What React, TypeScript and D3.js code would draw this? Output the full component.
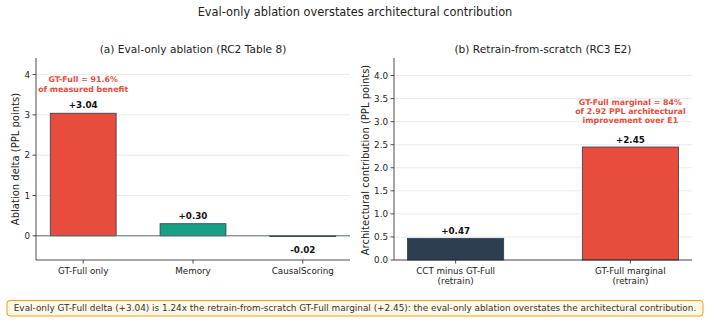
import React from 'react';
import * as d3 from 'd3';

const evalCats = ['GT-Full only', 'Memory', 'CausalScoring'];
const evalVals = [3.04, 0.30, -0.02];
const evalColors = ['#e74c3c', '#16a085', '#34495e'];
const evalLabels = ['+3.04', '+0.30', '-0.02'];

const retrainCats = [['CCT minus GT-Full', '(retrain)'], ['GT-Full marginal', '(retrain)']];
const retrainVals = [0.47, 2.45];
const retrainColors = ['#2c3e50', '#e74c3c'];
const retrainLabels = ['+0.47', '+2.45'];

const leftTicks = [0, 1, 2, 3, 4];
const rightTicks = [0, 0.5, 1, 1.5, 2, 2.5, 3, 3.5, 4];

const W = 710;
const H = 324;
const font = 'DejaVu Sans, sans-serif';
const ink = '#222';
const tickSize = 8.75;

export default function App() {
  // left panel
  const lx = d3.scaleLinear().domain([-0.43, 2.43]).range([36, 350]);
  const ly = d3.scaleLinear().domain([-0.6, 4.41]).range([260, 58]);
  const lw = lx(0.6) - lx(0);

  // right panel
  const rx = d3.scaleLinear().domain([-0.3525, 1.3525]).range([394, 692]);
  const ry = d3.scaleLinear().domain([0, 4.38]).range([260, 58]);
  const rw = rx(0.55) - rx(0);

  return (
    <svg width={W} height={H} style={{ position: 'absolute', left: 0, top: 0, background: '#fff' }} fontFamily={font}>
      <text x={355} y={16} textAnchor="middle" fontSize={11.4} fill={ink}>
        Eval-only ablation overstates architectural contribution
      </text>

      {/* ---- (a) ---- */}
      <text x={193} y={52.5} textAnchor="middle" fontSize={10.6} fill={ink}>
        (a) Eval-only ablation (RC2 Table 8)
      </text>
      {leftTicks.map((t) => (
        <g key={t}>
          <line x1={36} x2={350} y1={ly(t)} y2={ly(t)} stroke="#e6e6e6" strokeWidth={0.8} />
          <line x1={32.5} x2={36} y1={ly(t)} y2={ly(t)} stroke={ink} strokeWidth={0.8} />
          <text x={30} y={ly(t)} dy="0.36em" textAnchor="end" fontSize={tickSize} fill={ink}>{t}</text>
        </g>
      ))}
      {evalVals.map((v, i) => (
        <rect key={i} x={lx(i) - lw / 2} width={lw} y={ly(Math.max(v, 0))}
          height={Math.abs(ly(v) - ly(0))} fill={evalColors[i]} stroke="#2c3e50" strokeWidth={0.8} />
      ))}
      <line x1={36} x2={350} y1={ly(0)} y2={ly(0)} stroke="#5d6d7e" strokeWidth={1} />
      {evalVals.map((v, i) => (
        <text key={i} x={lx(i)} y={v >= 0 ? ly(v) - 5 : ly(v) + 16} textAnchor="middle"
          fontSize={tickSize} fontWeight="bold" fill="#111">{evalLabels[i]}</text>
      ))}
      <text x={lx(0)} y={ly(3.04)} textAnchor="middle" fontSize={7.9} fontWeight="bold" fill="#e74c3c">
        <tspan x={lx(0)} dy={-31}>GT-Full = 91.6%</tspan>
        <tspan x={lx(0)} dy={9.5}>of measured benefit</tspan>
      </text>
      {evalCats.map((c, i) => (
        <g key={c}>
          <line x1={lx(i)} x2={lx(i)} y1={260} y2={263.5} stroke={ink} strokeWidth={0.8} />
          <text x={lx(i)} y={273.5} textAnchor="middle" fontSize={tickSize} fill={ink}>{c}</text>
        </g>
      ))}
      <line x1={36} x2={36} y1={58} y2={260} stroke={ink} strokeWidth={0.8} />
      <line x1={36} x2={350} y1={260} y2={260} stroke={ink} strokeWidth={0.8} />
      <text transform={`translate(18.5,${159}) rotate(-90)`} textAnchor="middle" fontSize={10} fill={ink}>
        Ablation delta (PPL points)
      </text>

      {/* ---- (b) ---- */}
      <text x={543} y={52.5} textAnchor="middle" fontSize={10.6} fill={ink}>
        (b) Retrain-from-scratch (RC3 E2)
      </text>
      {rightTicks.map((t) => (
        <g key={t}>
          <line x1={394} x2={692} y1={ry(t)} y2={ry(t)} stroke="#e6e6e6" strokeWidth={0.8} />
          <line x1={390.5} x2={394} y1={ry(t)} y2={ry(t)} stroke={ink} strokeWidth={0.8} />
          <text x={388} y={ry(t)} dy="0.36em" textAnchor="end" fontSize={tickSize} fill={ink}>{t.toFixed(1)}</text>
        </g>
      ))}
      {retrainVals.map((v, i) => (
        <rect key={i} x={rx(i) - rw / 2} width={rw} y={ry(v)} height={ry(0) - ry(v)}
          fill={retrainColors[i]} stroke="#2c3e50" strokeWidth={0.8} />
      ))}
      {retrainVals.map((v, i) => (
        <text key={i} x={rx(i)} y={ry(v) - 4.5} textAnchor="middle" fontSize={tickSize} fontWeight="bold" fill="#111">
          {retrainLabels[i]}
        </text>
      ))}
      <text x={rx(1)} y={ry(2.45)} textAnchor="middle" fontSize={7.9} fontWeight="bold" fill="#e74c3c">
        <tspan x={rx(1)} dy={-42}>GT-Full marginal = 84%</tspan>
        <tspan x={rx(1)} dy={9.2}>of 2.92 PPL architectural</tspan>
        <tspan x={rx(1)} dy={9.2}>improvement over E1</tspan>
      </text>
      {retrainCats.map((c, i) => (
        <g key={i}>
          <line x1={rx(i)} x2={rx(i)} y1={260} y2={263.5} stroke={ink} strokeWidth={0.8} />
          <text x={rx(i)} y={273.5} textAnchor="middle" fontSize={tickSize} fill={ink}>
            <tspan x={rx(i)} dy={0}>{c[0]}</tspan>
            <tspan x={rx(i)} dy={10}>{c[1]}</tspan>
          </text>
        </g>
      ))}
      <line x1={394} x2={394} y1={58} y2={260} stroke={ink} strokeWidth={0.8} />
      <line x1={394} x2={692} y1={260} y2={260} stroke={ink} strokeWidth={0.8} />
      <text transform={`translate(368.5,${160}) rotate(-90)`} textAnchor="middle" fontSize={10} fill={ink}>
        Architectural contribution (PPL points)
      </text>

      {/* ---- footer ---- */}
      <rect x={7} y={300.5} width={696} height={15.5} rx={3} fill="#fef9e7" stroke="#f39c12" strokeWidth={1} />
      <text x={355} y={311.2} textAnchor="middle" fontSize={8.9} fill="#333">
        Eval-only GT-Full delta (+3.04) is 1.24x the retrain-from-scratch GT-Full marginal (+2.45): the eval-only ablation overstates the architectural contribution.
      </text>
    </svg>
  );
}
